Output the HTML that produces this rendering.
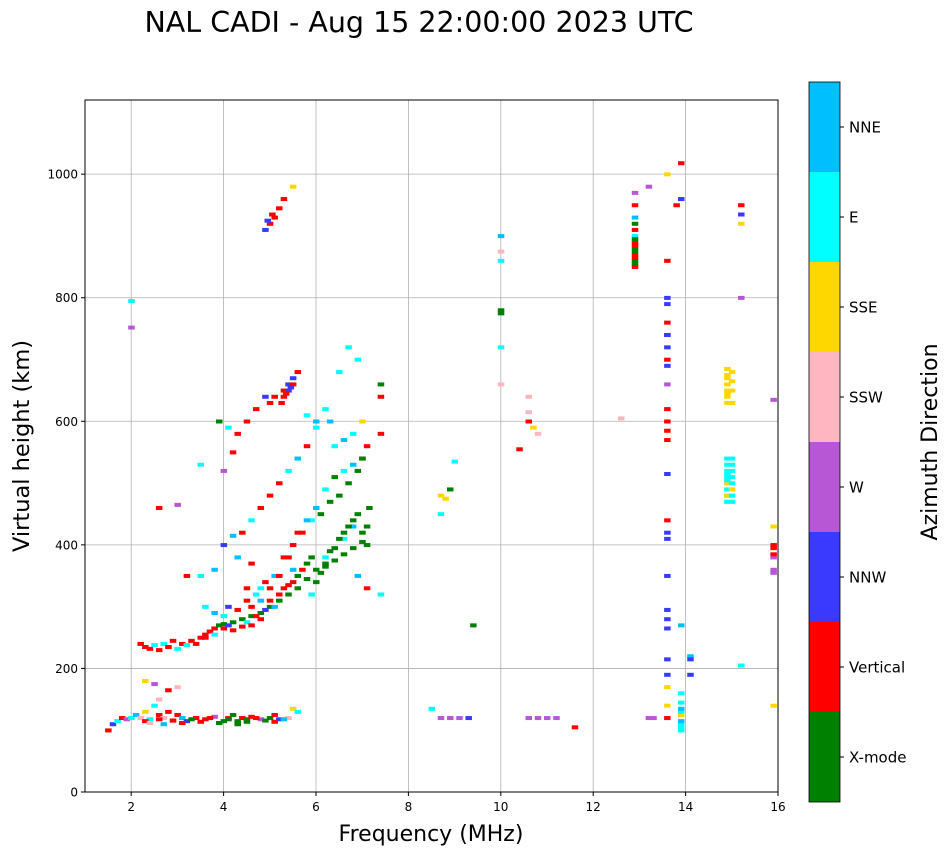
<!DOCTYPE html>
<html><head><meta charset="utf-8">
<style>
body{margin:0;background:#fff;font-family:"DejaVu Sans","Liberation Sans",sans-serif;}
svg text{font-family:"DejaVu Sans","Liberation Sans",sans-serif;}
</style></head>
<body>
<svg id="chart" width="951" height="856" viewBox="0 0 951 856" xmlns="http://www.w3.org/2000/svg">
<text x="419" y="32" font-size="28.5" text-anchor="middle">NAL CADI - Aug 15 22:00:00 2023 UTC</text>
<g id="grid"></g>
<g id="marks"></g>
<rect x="85" y="100" width="693" height="692" fill="none" stroke="#000" stroke-width="1"/>
<g id="axes"></g>
<text x="431" y="841" font-size="22" text-anchor="middle">Frequency (MHz)</text>
<text x="0" y="0" font-size="22.5" text-anchor="middle" transform="translate(29,446) rotate(-90)">Virtual height (km)</text>
<g id="cbar"></g>
<text x="0" y="0" font-size="22" text-anchor="middle" transform="translate(937,442) rotate(-90)">Azimuth Direction</text>
</svg>
<script>
const categories=["X-mode","Vertical","NNW","W","SSW","SSE","E","NNE"];
const catColors=["#008000","#ff0000","#3a3aff","#b857d6","#ffb6c1","#ffd700","#00ffff","#00bfff"];
const xTicks=[2,4,6,8,10,12,14,16];
const yTicks=[0,200,400,600,800,1000];
const freqs=[1.5,1.6,1.7,1.8,1.9,2.0,2.1,2.2,2.3,2.4,2.5,2.6,2.7,2.8,2.9,3.0,3.1,3.2,3.4,3.6,3.8,4.0,4.1,4.2,4.3,4.4,4.5,4.6,4.8,5.0,5.1,5.2,5.4,5.5,5.6,
2.2,2.3,2.4,2.5,2.6,2.7,2.8,2.9,3.0,3.1,3.2,2.3,2.5,2.6,2.8,3.0,
3.3,3.5,3.6,3.7,3.8,3.9,4.0,4.2,4.4,4.6,4.8,5.0,5.2,5.4,5.6,5.8,6.0,6.2,6.4,6.6,6.8,7.0,7.1,7.15,
3.6,3.8,4.0,4.1,4.3,4.5,4.7,4.9,5.1,5.3,5.5,5.7,5.9,6.1,6.3,6.5,6.7,6.9,7.0,
3.5,3.8,4.0,4.2,4.4,4.6,4.8,5.0,5.2,5.4,5.6,5.8,6.0,6.2,6.4,6.6,6.8,7.0,
4.0,4.2,4.3,4.5,4.7,4.9,5.0,5.1,5.3,5.4,5.5,5.6,5.8,6.0,6.3,6.5,6.7,6.9,7.4,7.4,7.4,
4.9,5.0,5.1,5.2,5.3,4.95,5.05,5.5,
3.9,4.1,4.3,4.5,4.6,4.8,5.2,5.5,5.9,6.2,6.6,6.8,6.9,7.1,7.4,
2.0,2.0,3.0,2.6,3.5,3.2,
8.5,8.7,8.9,9.1,9.3,8.7,8.8,9.0,8.9,9.4,8.7,
10.0,10.0,10.0,10.0,10.0,10.0,10.0,10.4,10.6,10.6,10.7,10.8,10.6,10.8,11.0,11.2,11.6,10.6,
12.6,12.9,12.9,12.9,12.9,12.9,12.9,12.9,12.9,12.9,12.9,12.9,13.2,13.2,13.3,
13.6,13.6,13.6,13.6,13.6,13.6,13.6,13.6,13.6,13.6,13.6,13.6,13.6,13.6,13.6,13.6,13.6,13.6,13.6,13.6,13.6,13.6,13.6,
13.9,13.9,13.9,13.9,13.9,13.9,14.1,14.1,14.1,13.9,13.9,13.8,
14.9,14.9,14.9,14.9,14.9,14.9,14.9,14.9,14.9,14.9,14.9,14.9,14.9,
15.2,15.2,15.2,15.2,15.2,15.9,15.9,15.9,15.9,15.9,15.9,15.9,15.9,15.9,
2.3,2.4,2.6,2.7,2.9,3.1,3.3,3.5,3.7,3.9,4.1,4.3,4.5,4.7,4.9,5.1,5.3,
3.4,3.6,3.8,4.0,4.1,4.2,4.4,4.5,4.6,4.7,4.8,4.9,5.0,5.1,5.2,5.3,5.4,5.5,5.6,5.7,5.8,5.9,6.0,6.1,6.2,6.3,6.4,6.5,6.6,6.7,6.8,6.9,7.0,7.1,
4.6,4.8,5.0,5.2,5.4,5.6,5.8,6.0,6.2,6.4,6.6,6.8,7.0,7.1,
5.3,5.4,5.5,5.35,5.45,5.25,
12.9,12.9,12.9,12.9,12.9,13.6,13.6,13.6,13.6,13.6,13.9,13.9,13.9,13.9,
14.9,14.9,14.9,14.9,14.9,14.9,14.9,14.9,
15.0,15.0,15.0,15.0,15.0,15.0,15.0,15.0,15.0,15.0,15.0,15.0];
const heights=[100,110,115,120,118,120,125,120,130,118,140,125,120,130,115,125,120,115,120,118,122,115,120,125,115,120,118,122,118,120,125,118,120,135,130,
240,235,232,238,230,240,235,245,232,240,238,180,175,150,165,170,
245,250,255,260,265,270,272,275,280,285,290,300,310,320,330,345,360,370,375,385,395,405,430,460,
300,290,285,300,295,310,320,340,350,380,400,420,440,450,470,480,500,520,540,
350,360,400,415,420,440,460,480,500,520,540,560,600,620,560,570,580,600,
520,550,580,600,620,640,630,640,650,660,670,680,610,590,600,680,720,700,640,580,660,
910,920,930,945,960,925,935,980,
600,590,380,330,370,330,350,360,320,380,410,430,350,330,320,
795,752,465,460,530,350,
135,120,120,120,120,480,475,535,490,270,450,
775,780,860,875,900,720,660,555,600,615,590,580,120,120,120,120,105,640,
605,850,860,870,880,890,900,910,920,930,950,970,980,120,120,
120,140,170,190,215,265,280,295,350,410,420,440,515,570,585,600,620,660,690,740,800,860,1000,
100,110,125,130,135,270,220,215,190,960,1018,950,
470,480,490,500,510,520,530,540,630,645,660,675,685,
950,935,920,800,205,140,355,360,380,385,395,400,430,635,
115,112,118,110,116,112,118,114,120,112,118,110,114,120,116,114,118,
240,250,255,265,270,262,268,275,270,285,280,295,310,300,320,330,335,340,350,360,370,380,340,355,365,390,395,410,420,430,440,450,420,400,
300,310,330,350,380,420,440,460,490,510,520,530,540,560,
640,650,660,645,655,630,
855,865,875,885,895,700,720,740,760,790,105,115,145,160,
480,490,500,505,515,640,650,670,
470,480,490,500,510,520,530,540,630,650,665,680];
const dirs=[1,2,6,1,3,6,7,4,5,6,6,1,4,1,4,1,7,2,1,1,3,0,1,0,0,1,0,1,3,0,1,2,4,5,6,
1,1,1,6,1,6,1,1,6,1,6,5,3,4,1,4,
1,1,1,1,1,0,0,0,0,0,0,0,0,0,0,0,0,0,0,0,0,0,0,0,
6,7,6,2,1,1,6,1,7,1,1,1,6,0,0,0,0,0,1,
6,7,2,7,1,6,1,1,1,6,7,1,7,6,6,7,6,5,
3,1,1,1,1,2,1,1,1,2,2,1,6,6,7,6,6,6,1,1,0,
2,1,1,1,1,2,1,5,
0,6,7,1,1,6,6,7,6,6,6,7,7,1,6,
6,3,3,1,6,1,
6,3,3,3,2,5,5,6,0,0,6,
0,0,6,4,7,6,4,1,1,4,5,4,3,3,3,3,1,4,
4,1,0,1,0,1,6,1,0,7,1,3,3,3,3,
1,5,5,2,2,2,2,2,2,2,2,1,2,1,1,1,1,3,2,2,2,1,5,
6,6,5,6,7,7,7,2,2,2,1,1,
6,6,5,6,6,6,6,6,5,5,5,5,5,
1,2,5,3,6,5,3,3,3,1,1,1,5,3,
1,4,1,7,1,1,0,1,1,0,0,0,0,1,0,1,7,
1,1,6,1,2,1,1,6,1,1,1,2,1,7,1,1,1,1,0,1,0,0,0,0,0,0,0,0,0,0,0,0,0,0,
1,7,1,1,1,1,7,7,6,0,6,7,0,1,
1,2,1,1,2,1,
0,1,0,1,0,1,2,2,1,2,6,7,6,6,
5,6,5,6,6,5,5,5,
6,6,5,6,6,6,6,6,5,5,5,5];
const NS="http://www.w3.org/2000/svg";
const X0=85,X1=778,Y0=792,Y1=100,FMIN=1,FMAX=16,HMIN=0,HMAX=1120;
function xScale(f){return X0+(f-FMIN)/(FMAX-FMIN)*(X1-X0);}
function yScale(h){return Y0-(h-HMIN)/(HMAX-HMIN)*(Y0-Y1);}
function mk(tag,attrs,parent){const e=document.createElementNS(NS,tag);for(const k in attrs)e.setAttribute(k,attrs[k]);parent.appendChild(e);return e;}
const grid=document.getElementById('grid'),axes=document.getElementById('axes'),marks=document.getElementById('marks'),cbar=document.getElementById('cbar');
xTicks.forEach(t=>{const x=xScale(t);
 const g=mk('line',{x1:x,x2:x,y1:Y1,y2:Y0,stroke:'#b0b0b0','stroke-width':0.8},grid);
 
 
 mk('line',{x1:x,x2:x,y1:Y0,y2:Y0+4,stroke:'#000'},axes);
 const tx=mk('text',{x:x,y:Y0+19,'font-size':12,'text-anchor':'middle'},axes);tx.textContent=t;
 
 });
yTicks.forEach(t=>{const y=yScale(t);
 const g=mk('line',{x1:X0,x2:X1,y1:y,y2:y,stroke:'#b0b0b0','stroke-width':0.8},grid);
 
 
 mk('line',{x1:X0-4,x2:X0,y1:y,y2:y,stroke:'#000'},axes);
 const tx=mk('text',{x:X0-7,y:y+4.5,'font-size':12,'text-anchor':'end'},axes);tx.textContent=t;
 
 });
for(let i=0;i<freqs.length;i++){
 const r=mk('rect',{x:xScale(freqs[i])-3,y:yScale(heights[i])-1.8,width:6.5,height:4,fill:catColors[dirs[i]]},marks);
 
 
}
const CB0=82,CB1=802,segH=(CB1-CB0)/categories.length;
categories.forEach((c,i)=>{const y=CB1-(i+1)*segH;
 const r=mk('rect',{x:809,y:y,width:31,height:segH,fill:catColors[i]},cbar);
 
 
 mk('line',{x1:840,x2:844,y1:y+segH/2,y2:y+segH/2,stroke:'#000'},cbar);
 const tx=mk('text',{x:849,y:y+segH/2+5.5,'font-size':15},cbar);tx.textContent=c;
 
 });
mk('rect',{x:809,y:CB0,width:31,height:CB1-CB0,fill:'none',stroke:'#000','stroke-width':0.8},cbar);
</script>
</body></html>
